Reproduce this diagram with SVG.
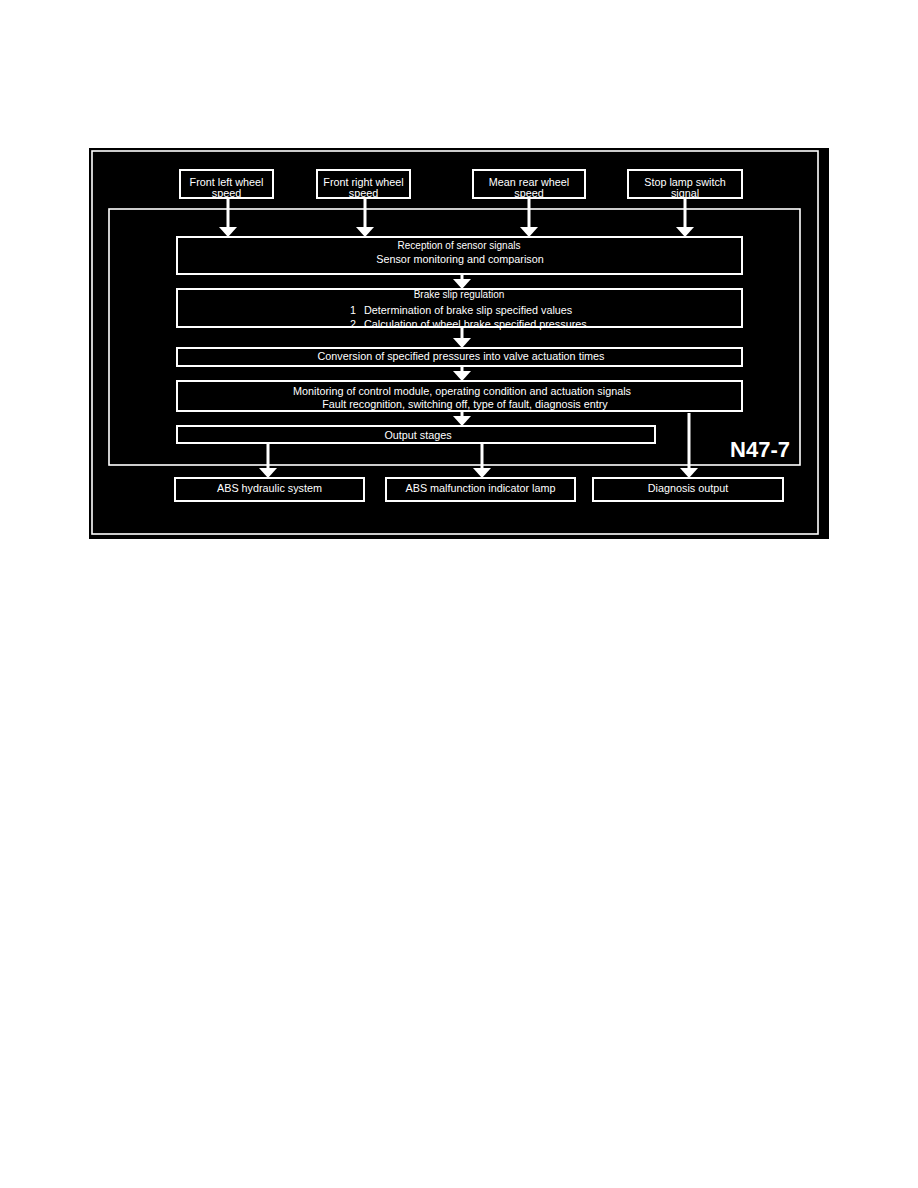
<svg xmlns="http://www.w3.org/2000/svg" width="918" height="1188" viewBox="0 0 918 1188">
<defs>
<style>
.box{fill:none;stroke:#fff;stroke-width:2}
.frame{fill:none;stroke:#fff;stroke-width:1.6}
.t{fill:#fff;font-family:"Liberation Sans",Arial,sans-serif;font-size:10.8px;text-anchor:middle}
.s{font-size:10px}
.st{text-anchor:start}
.conn line{stroke:#fff;stroke-width:3;marker-end:url(#ah)}
</style>
<marker id="ah" markerUnits="userSpaceOnUse" viewBox="0 0 10 18" refX="7" refY="9" markerWidth="10" markerHeight="18" orient="auto">
<path d="M0,0 L10,9 L0,18 z" fill="#fff"/>
</marker>
</defs>
<rect x="0" y="0" width="918" height="1188" fill="#fff"/>
<rect x="89" y="148" width="740" height="391" fill="#000"/>
<rect class="frame" x="92" y="151" width="726" height="383"/>
<g id="n47-7">
<rect class="frame" x="109" y="209" width="691" height="256"/>
<text x="790" y="457" fill="#fff" font-family="Liberation Sans,Arial,sans-serif" font-size="22" font-weight="bold" text-anchor="end">N47-7</text>
</g>
<g id="front-left">
<rect class="box" x="180" y="170" width="93" height="28"/>
<text class="t" x="226.5" y="186">Front left wheel</text>
<text class="t" x="226.5" y="197">speed</text>
</g>
<g id="front-right">
<rect class="box" x="317" y="170" width="93" height="28"/>
<text class="t" x="363.5" y="186">Front right wheel</text>
<text class="t" x="363.5" y="197">speed</text>
</g>
<g id="mean-rear">
<rect class="box" x="473" y="170" width="112" height="28"/>
<text class="t" x="529" y="186">Mean rear wheel</text>
<text class="t" x="529" y="197">speed</text>
</g>
<g id="stop-lamp">
<rect class="box" x="628" y="170" width="114" height="28"/>
<text class="t" x="685" y="186">Stop lamp switch</text>
<text class="t" x="685" y="197">signal</text>
</g>
<g id="reception">
<rect class="box" x="177" y="237" width="565" height="37"/>
<text class="t s" x="459" y="249">Reception of sensor signals</text>
<text class="t" x="460" y="263">Sensor monitoring and comparison</text>
</g>
<g id="brake-slip">
<rect class="box" x="177" y="289" width="565" height="38"/>
<text class="t s" x="459" y="298">Brake slip regulation</text>
<text class="t st" x="350" y="314">1</text>
<text class="t st" x="364" y="314">Determination of brake slip specified values</text>
<text class="t st" x="350" y="328">2</text>
<text class="t st" x="364" y="328">Calculation of wheel brake specified pressures</text>
</g>
<g id="conversion">
<rect class="box" x="177" y="348" width="565" height="18"/>
<text class="t" x="461" y="360">Conversion of specified pressures into valve actuation times</text>
</g>
<g id="monitoring">
<rect class="box" x="177" y="381" width="565" height="30"/>
<text class="t" x="462" y="395">Monitoring of control module, operating condition and actuation signals</text>
<text class="t" x="465" y="408">Fault recognition, switching off, type of fault, diagnosis entry</text>
</g>
<g id="output-stages">
<rect class="box" x="177" y="426" width="478" height="17"/>
<text class="t" x="418" y="439">Output stages</text>
</g>
<g id="abs-hydraulic">
<rect class="box" x="175" y="478" width="189" height="23"/>
<text class="t" x="269.5" y="492">ABS hydraulic system</text>
</g>
<g id="abs-lamp">
<rect class="box" x="386" y="478" width="189" height="23"/>
<text class="t" x="480.5" y="492">ABS malfunction indicator lamp</text>
</g>
<g id="diagnosis">
<rect class="box" x="593" y="478" width="190" height="23"/>
<text class="t" x="688" y="492">Diagnosis output</text>
</g>
<g id="connectors" class="conn">
<line x1="228" y1="198" x2="228" y2="234"/>
<line x1="365" y1="198" x2="365" y2="234"/>
<line x1="529" y1="198" x2="529" y2="234"/>
<line x1="685" y1="198" x2="685" y2="234"/>
<line x1="462" y1="274" x2="462" y2="286"/>
<line x1="462" y1="327" x2="462" y2="345"/>
<line x1="462" y1="366" x2="462" y2="378"/>
<line x1="462" y1="411" x2="462" y2="423"/>
<line x1="268" y1="443" x2="268" y2="475"/>
<line x1="482" y1="443" x2="482" y2="475"/>
<line x1="689" y1="413" x2="689" y2="475"/>
</g>
</svg>
